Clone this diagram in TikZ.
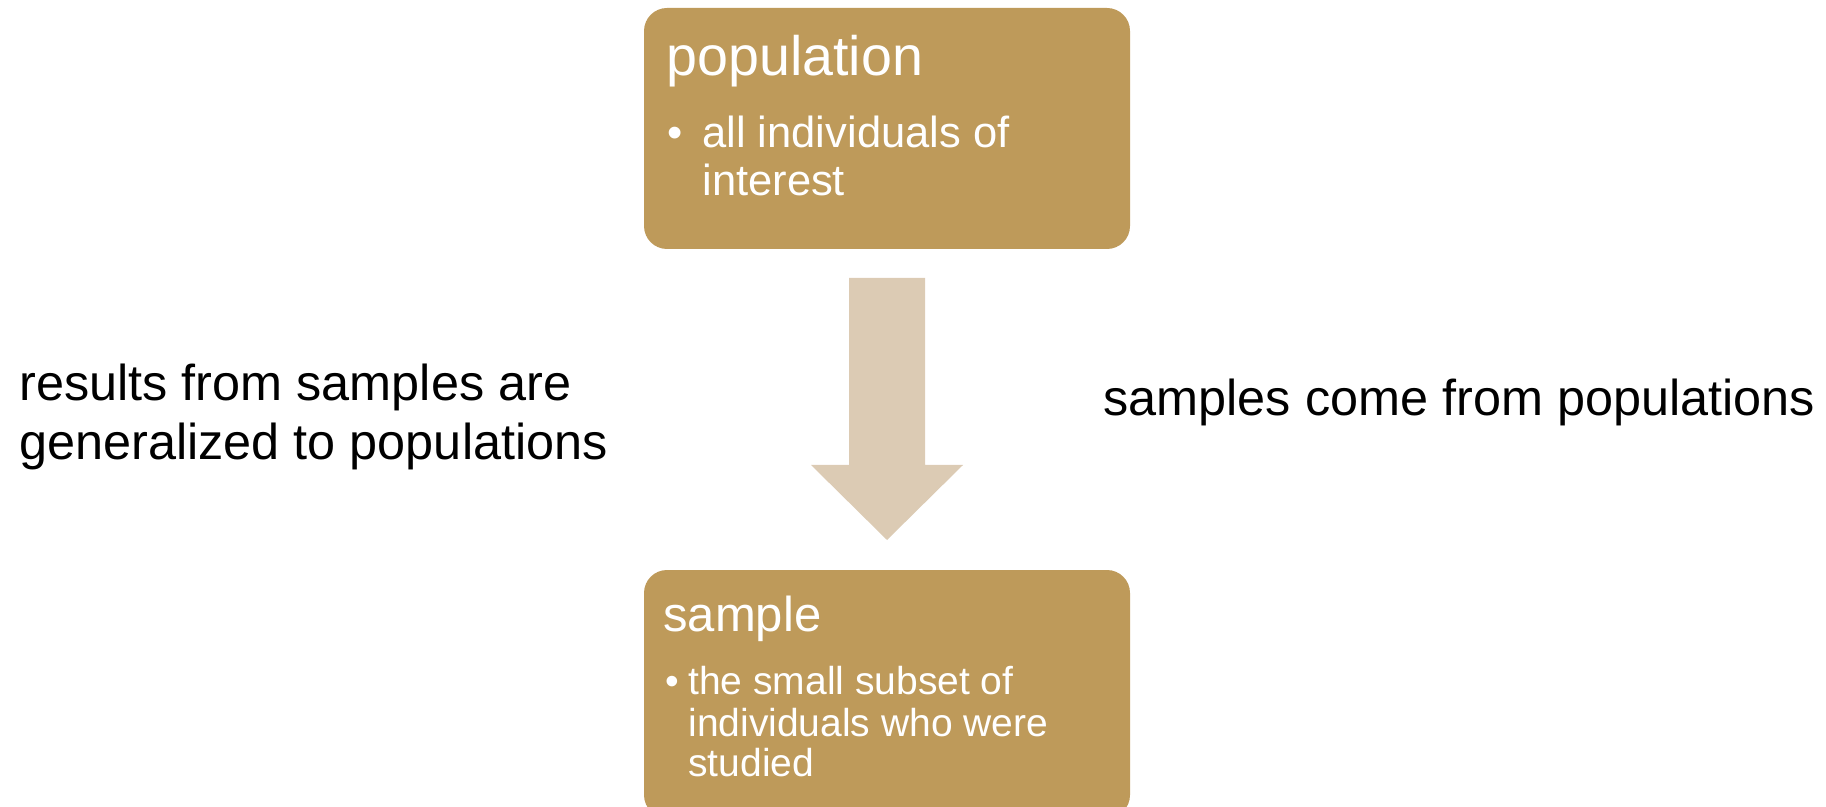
\documentclass[tikz,border=0pt]{standalone}
\usepackage{fontspec}
\setmainfont{Liberation Sans}
\definecolor{boxgold}{RGB}{190,154,90}
\definecolor{arrowtan}{RGB}{220,203,180}
\tikzset{
  goldbox/.style={fill=boxgold, draw=none, rounded corners=11.5pt},
  whitetxt/.style={text=white, inner sep=0pt, anchor=base west},
  blacktxt/.style={text=black, inner sep=0pt, anchor=base west},
  bigarrow/.style={fill=arrowtan, draw=none}
}
\begin{document}
\begin{tikzpicture}[x=0.5pt,y=-0.5pt]
\useasboundingbox (0,0) rectangle (1826,807);
\clip (0,0) rectangle (1826,807);
% population box
\path[goldbox] (644,8) rectangle (1130,249);
\node[whitetxt, font=\fontsize{27.8}{33}\selectfont] (poptitle) at (666,76) {population};
\node[whitetxt, font=\fontsize{21.75}{23}\selectfont] (popbullet) at (667,148) {•};
\node[whitetxt, font=\fontsize{21.75}{23}\selectfont] (popl1) at (702,148) {all individuals of};
\node[whitetxt, font=\fontsize{21.75}{23}\selectfont] (popl2) at (702,196) {interest};
% arrow
\path[bigarrow] (849,278) -- (925,278) -- (925,465) -- (963,465) -- (887,540) -- (811,465) -- (849,465) -- cycle;
% sample box
\path[goldbox] (644,570) rectangle (1130,818);
\node[whitetxt, font=\fontsize{24.5}{29}\selectfont] (samtitle) at (663,631) {sample};
\node[whitetxt, font=\fontsize{19.5}{20.5}\selectfont] (sambullet) at (665,694) {•};
\node[whitetxt, font=\fontsize{19.5}{20.5}\selectfont] (saml1) at (688,694) {the small subset of};
\node[whitetxt, font=\fontsize{19.5}{20.5}\selectfont] (saml2) at (688,736) {individuals who were};
\node[whitetxt, font=\fontsize{19.5}{20.5}\selectfont] (saml3) at (688,776) {studied};
% side texts
\node[blacktxt, font=\fontsize{25.2}{27}\selectfont] (left1) at (19,401) {results from samples are};
\node[blacktxt, font=\fontsize{25.2}{27}\selectfont] (left2) at (19,459) {generalized to populations};
\node[blacktxt, font=\fontsize{25.2}{27}\selectfont] (right1) at (1103,416) {samples come from populations};
\end{tikzpicture}
\end{document}
